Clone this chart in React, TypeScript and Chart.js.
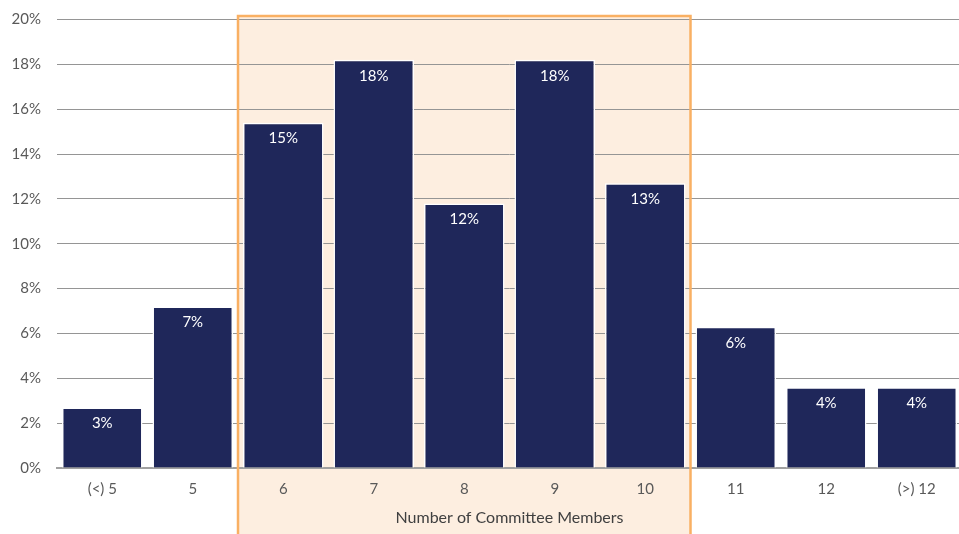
import React, { useEffect, useRef } from "react";
import { Chart, registerables } from "chart.js";

Chart.register(...registerables);

const categories = ["(<) 5", "5", "6", "7", "8", "9", "10", "11", "12", "(>) 12"];
const shares = [2.7, 7.2, 15.4, 18.2, 11.8, 18.2, 12.7, 6.3, 3.6, 3.6];
const highlightFrom = 2; // "6"
const highlightTo = 6; // "10"
const xTitle = "Number of Committee Members";

const FONT = "Lato, 'Open Sans', 'Liberation Sans', sans-serif";
const SIZE = 15;

const highlightPlugin = {
  id: "highlight",
  beforeDraw(chart: any) {
    const { ctx } = chart;
    const x = chart.scales.x;
    const y = chart.scales.y;
    const half = (x.getPixelForValue(1) - x.getPixelForValue(0)) / 2;
    const left = x.getPixelForValue(highlightFrom) - half;
    const right = x.getPixelForValue(highlightTo) + half;
    const top = y.getPixelForValue(20) - 3.5;
    const bottom = chart.height + 2;
    ctx.save();
    ctx.fillStyle = "#fdeee0";
    ctx.fillRect(left, top, right - left, bottom - top);
    ctx.restore();
  },
  afterDatasetsDraw(chart: any) {
    const { ctx } = chart;
    const x = chart.scales.x;
    const y = chart.scales.y;
    const half = (x.getPixelForValue(1) - x.getPixelForValue(0)) / 2;
    const left = x.getPixelForValue(highlightFrom) - half;
    const right = x.getPixelForValue(highlightTo) + half;
    const top = y.getPixelForValue(20) - 3.5;
    const bottom = chart.height + 2;
    ctx.save();
    ctx.strokeStyle = "#f9b063";
    ctx.lineWidth = 2.5;
    ctx.strokeRect(left, top, right - left, bottom - top);
    ctx.restore();

    // value labels
    const meta = chart.getDatasetMeta(0);
    ctx.save();
    ctx.fillStyle = "#ffffff";
    ctx.font = `${SIZE}px ${FONT}`;
    ctx.textAlign = "center";
    ctx.textBaseline = "middle";
    meta.data.forEach((bar: any, i: number) => {
      ctx.fillText(Math.round(shares[i]) + "%", bar.x, bar.y + 16);
    });
    ctx.restore();
  },
};

export default function App() {
  const ref = useRef<HTMLCanvasElement>(null);
  useEffect(() => {
    document.body.style.margin = "0";
    const chart = new Chart(ref.current!, {
      type: "bar",
      data: {
        labels: categories,
        datasets: [
          {
            data: shares,
            backgroundColor: "#1f275a",
            borderColor: "#ffffff",
            borderWidth: 1.5,
            categoryPercentage: 1,
            barPercentage: 0.89,
          },
        ],
      },
      options: {
        animation: false,
        responsive: false,
        maintainAspectRatio: false,
        layout: { padding: { top: 19.5, right: 0, left: 0, bottom: 0 } },
        plugins: { legend: { display: false }, tooltip: { enabled: false } },
        scales: {
          x: {
            grid: { display: false, drawTicks: false },
            border: { display: true, color: "#a0a0a0", width: 2 },
            ticks: { color: "#595959", font: { family: FONT, size: SIZE }, padding: 12 },
            title: {
              display: true,
              text: xTitle,
              color: "#404040",
              font: { family: FONT, size: 16 },
              padding: { top: 4, bottom: 7 },
            },
            afterFit(scale: any) {
              scale.height = 66;
              scale.paddingLeft = 0;
              scale.paddingRight = 0;
            },
          },
          y: {
            min: 0,
            max: 20,
            grid: { color: "#959595", lineWidth: 1, drawTicks: false },
            border: { display: false },
            ticks: {
              stepSize: 2,
              color: "#595959",
              font: { family: FONT, size: SIZE },
              padding: 16,
              callback: (v: any) => v + "%",
            },
            afterFit(scale: any) {
              scale.width = 57;
              scale.paddingTop = 0;
              scale.paddingBottom = 0;
            },
          },
        },
      },
      plugins: [highlightPlugin],
    });
    return () => chart.destroy();
  }, []);
  return (
    <div style={{ width: 959, height: 534, overflow: "hidden" }}>
      <canvas ref={ref} width={962} height={534} style={{ display: "block" }} />
    </div>
  );
}
